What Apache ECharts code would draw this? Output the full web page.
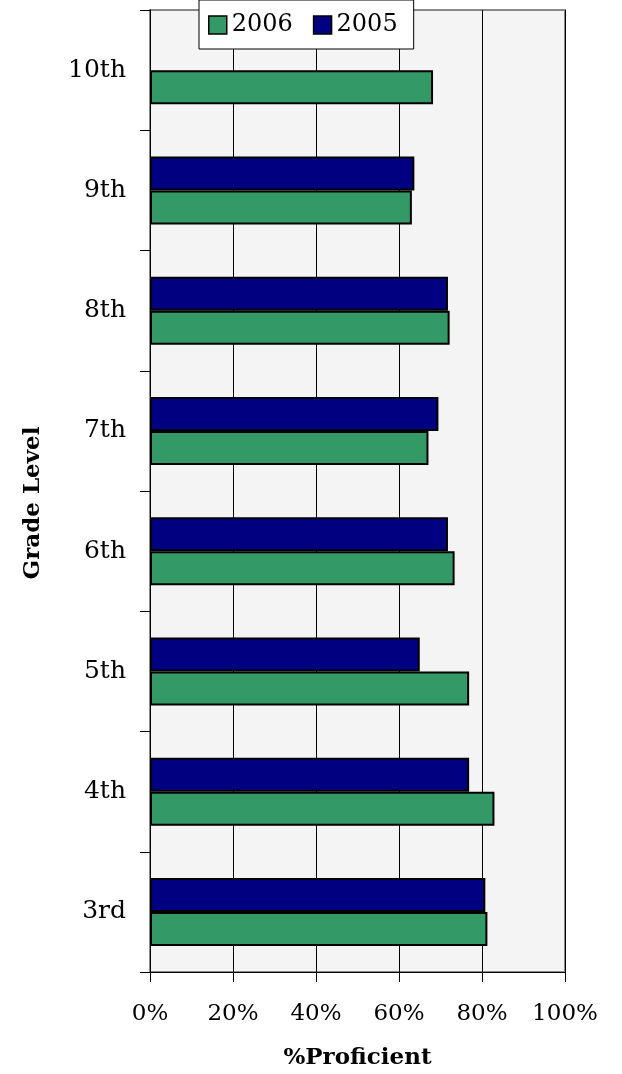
<!DOCTYPE html>
<html>
<head>
<meta charset="utf-8">
<script src="https://cdn.jsdelivr.net/npm/echarts@6/dist/echarts.min.js"></script>
<style>
    html, body { margin: 0; padding: 0; background: #fff; }
    #main { width: 622px; height: 1074px; }
</style>
</head>
<body>
<div id="main"></div>
<script>
// 数据
var grades = ['3rd', '4th', '5th', '6th', '7th', '8th', '9th', '10th']
var values2006 = [81.3, 83.0, 76.9, 73.4, 67.1, 72.2, 63.1, 68.2]
var values2005 = [80.8, 76.9, 65.0, 71.8, 69.5, 71.8, 63.7, null]
var percentTicks = [0, 20, 40, 60, 80, 100]

var serif = 'DejaVu Serif'

var element = document.querySelector('#main')
var myChart = echarts.init(element)

var barSeries = (name, data, color) => {
    return {
        name: name,
        type: 'bar',
        data: data,
        barWidth: 34,
        barGap: '0%',
        itemStyle: {
            color: color,
            borderColor: '#000',
            borderWidth: 2,
        },
        z: 3,
    }
}

var template = () => {
    myChart.setOption({
        animation: false,
        textStyle: { fontFamily: serif },
        grid: {
            left: 150,
            right: 57,
            top: 10,
            bottom: 102,
            outerBoundsMode: 'none',
            containLabel: false,
            show: true,
            backgroundColor: '#f4f4f4',
            borderColor: '#8a8a8a',
            borderWidth: 2,
        },
        legend: {
            data: ['2006', '2005'],
            icon: 'rect',
            left: 199,
            top: 0,
            padding: [13, 16, 12, 9],
            itemGap: 20,
            itemWidth: 18,
            itemHeight: 18,
            itemStyle: { borderColor: '#000', borderWidth: 1.5 },
            backgroundColor: '#fff',
            borderColor: '#000',
            borderWidth: 1,
            textStyle: { fontFamily: serif, fontSize: 24, color: '#000' },
        },
        xAxis: {
            type: 'value',
            min: percentTicks[0],
            max: percentTicks[percentTicks.length - 1],
            interval: 20,
            name: '%Proficient',
            nameLocation: 'middle',
            nameGap: 75,
            nameTextStyle: { fontFamily: serif, fontSize: 23, fontWeight: 'bold', color: '#000' },
            axisLine: { show: true, lineStyle: { color: '#000', width: 1 } },
            axisTick: { show: true, length: 10, lineStyle: { color: '#000' } },
            axisLabel: {
                margin: 31,
                fontSize: 23,
                color: '#000',
                fontFamily: serif,
                formatter: (v) => v + '%',
            },
            splitLine: { show: true, lineStyle: { color: '#000', width: 1 } },
        },
        yAxis: {
            type: 'category',
            data: grades,
            axisLine: { show: true, lineStyle: { color: '#000', width: 1 } },
            axisTick: { show: true, length: 10, lineStyle: { color: '#000' } },
            axisLabel: { margin: 24, fontSize: 25, color: '#000', fontFamily: serif },
        },
        graphic: [
            {
                type: 'text',
                x: 33,
                y: 503,
                rotation: Math.PI / 2,
                style: {
                    text: 'Grade Level',
                    font: 'bold 23px "DejaVu Serif"',
                    fill: '#000',
                    align: 'center',
                    verticalAlign: 'middle',
                },
            },
        ],
        // 2005 先画, 在每组上方
        series: [
            barSeries('2005', values2005, '#000080'),
            barSeries('2006', values2006, '#339966'),
        ],
    })
}

// 入口
var __main = () => {
    template()
}

__main()
</script>
</body>
</html>
